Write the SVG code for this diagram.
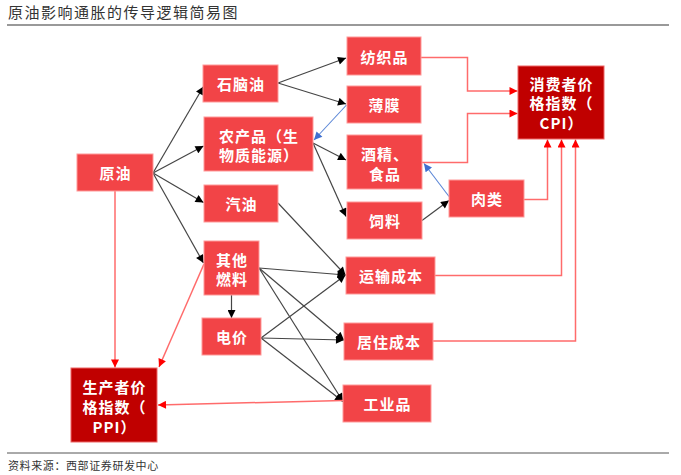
<svg xmlns="http://www.w3.org/2000/svg" width="681" height="475" viewBox="0 0 681 475">
<style>
.n{fill:#F24447;stroke:#F99;stroke-width:1}
.d{fill:#C00000;stroke:#E66;stroke-width:1}
.t{font-family:"Noto Sans CJK SC","Noto Sans",sans-serif;font-weight:bold;font-size:15px;fill:#fff;text-anchor:middle;dominant-baseline:central;letter-spacing:1px}
.k{fill:none;stroke:#454545;stroke-width:1.2;marker-end:url(#ak)}
.r{fill:none;stroke:#FF6B6B;stroke-width:1.5;marker-end:url(#ar)}
.b{fill:none;stroke:#5B86D6;stroke-width:1.1;marker-end:url(#ab)}
.h{font-family:"Noto Sans CJK SC",sans-serif;fill:#333}
</style>
<defs>
<marker id="ak" viewBox="0 0 10 10" refX="10" refY="5" markerWidth="9" markerHeight="8" markerUnits="userSpaceOnUse" orient="auto"><path d="M0,0L10,5L0,10z" fill="#000"/></marker>
<marker id="ar" viewBox="0 0 10 10" refX="10" refY="5" markerWidth="9" markerHeight="8" markerUnits="userSpaceOnUse" orient="auto"><path d="M0,0L10,5L0,10z" fill="#F00"/></marker>
<marker id="ab" viewBox="0 0 10 10" refX="10" refY="5" markerWidth="9" markerHeight="8" markerUnits="userSpaceOnUse" orient="auto"><path d="M0,0L10,5L0,10z" fill="#3E6FD0"/></marker>
</defs>
<rect width="681" height="475" fill="#fff"/>
<text class="h" x="8" y="18" font-size="15" letter-spacing="1.5">原油影响通胀的传导逻辑简易图</text>
<line x1="7" y1="25" x2="669" y2="25" stroke="#777" stroke-width="1.5"/>
<line x1="7" y1="453" x2="669" y2="453" stroke="#555" stroke-width="1"/>
<text class="h" x="8" y="470" font-size="11" letter-spacing="0.6">资料来源：西部证券研发中心</text>

<g id="connectors">
<path class="k" d="M153,173L203.5,86.5"/>
<path class="k" d="M153,173L203.5,146"/>
<path class="k" d="M153,173L203.5,202.5"/>
<path class="k" d="M153,173L203.5,263"/>
<path class="k" d="M278,83L346,58"/>
<path class="k" d="M278,83L346,104"/>
<path class="k" d="M313,143L346,160"/>
<path class="k" d="M313,143L346,216.5"/>
<path class="k" d="M278,203L345.5,275"/>
<path class="k" d="M259,268L345.5,275"/>
<path class="k" d="M259,268L344,340"/>
<path class="k" d="M259,268L343,401.5"/>
<path class="k" d="M261,338L345.5,275"/>
<path class="k" d="M261,338L344,340"/>
<path class="k" d="M261,338L343,401.5"/>
<path class="k" d="M231.5,295L231.5,318"/>
<path class="k" d="M422,220.5L449,200.5"/>
<path class="b" d="M346.5,105L314,140"/>
<path class="b" d="M449,196.5L424,163.5"/>
<path class="r" d="M115,191L115,367.5"/>
<path class="r" d="M204,264L159,367"/>
<path class="r" d="M343,400.5L158,405"/>
<path class="r" d="M421,57.5H467.5V91H517.5"/>
<path class="r" d="M422,162.5H467.5V113.5H517.5"/>
<path class="r" d="M524,199.5H547.5V139.5"/>
<path class="r" d="M435,275.5H561.5V139.5"/>
<path class="r" d="M433,341H575.5V139.5"/>
</g>

<g id="n-crude"><rect class="n" x="77" y="154" width="76" height="37"/><text class="t" x="115.5" y="172.5">原油</text></g>
<g id="n-naphtha"><rect class="n" x="203" y="65" width="75" height="37"/><text class="t" x="241" y="83.5">石脑油</text></g>
<g id="n-agri"><rect class="n" x="204" y="117" width="109" height="54"/><text class="t" x="259" y="135.5">农产品（生</text><text class="t" x="259" y="154.5">物质能源）</text></g>
<g id="n-gasoline"><rect class="n" x="204" y="185" width="74" height="37"/><text class="t" x="241.5" y="203.5">汽油</text></g>
<g id="n-otherfuel"><rect class="n" x="204" y="241" width="55" height="54"/><text class="t" x="232" y="259.5">其他</text><text class="t" x="232" y="278.5">燃料</text></g>
<g id="n-power"><rect class="n" x="202" y="318" width="59" height="37"/><text class="t" x="232" y="336.5">电价</text></g>
<g id="n-ppi"><rect class="d" x="71" y="368" width="86" height="74"/><text class="t" x="114.5" y="386">生产者价</text><text class="t" x="114.5" y="406">格指数（</text><text class="t" x="114.5" y="426">PPI）</text></g>
<g id="n-textile"><rect class="n" x="347" y="37" width="74" height="38"/><text class="t" x="384.5" y="56">纺织品</text></g>
<g id="n-film"><rect class="n" x="347" y="86" width="74" height="37"/><text class="t" x="384.5" y="104.5">薄膜</text></g>
<g id="n-alcohol"><rect class="n" x="347" y="135" width="75" height="54"/><text class="t" x="385" y="153.5">酒精、</text><text class="t" x="385" y="173">食品</text></g>
<g id="n-feed"><rect class="n" x="347" y="202" width="75" height="37"/><text class="t" x="385" y="220.5">饲料</text></g>
<g id="n-meat"><rect class="n" x="449" y="180" width="75" height="37"/><text class="t" x="487" y="198.5">肉类</text></g>
<g id="n-cpi"><rect class="d" x="518" y="66" width="86" height="73"/><text class="t" x="561.5" y="83">消费者价</text><text class="t" x="561.5" y="102.5">格指数（</text><text class="t" x="561.5" y="122.5">CPI）</text></g>
<g id="n-transport"><rect class="n" x="346" y="257" width="89" height="37"/><text class="t" x="391" y="275.5">运输成本</text></g>
<g id="n-housing"><rect class="n" x="344" y="323" width="89" height="37"/><text class="t" x="389" y="341.5">居住成本</text></g>
<g id="n-industrial"><rect class="n" x="343" y="385" width="88" height="37"/><text class="t" x="387.5" y="403.5">工业品</text></g>
</svg>
